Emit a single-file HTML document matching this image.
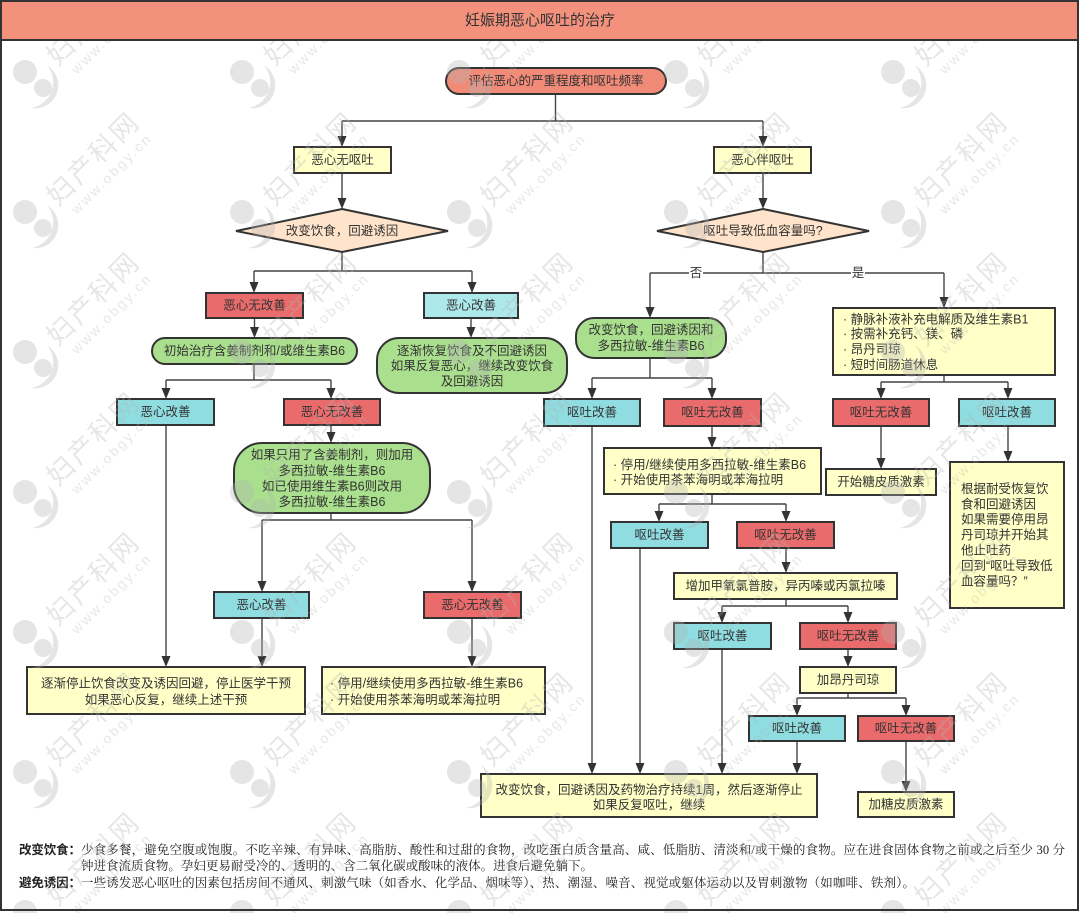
<!DOCTYPE html>
<html>
<head>
<meta charset="utf-8">
<style>
html,body{margin:0;padding:0;background:#fff;}
body{width:1080px;height:913px;overflow:hidden;}
svg{display:block;}
.t{font-family:"Liberation Sans","Noto Sans CJK SC",sans-serif;font-size:12.5px;fill:#333;}
.c{text-anchor:middle;}
.ln{fill:none;stroke:#444;stroke-width:1.4;}
.bx{stroke:#333;stroke-width:2;}
.ah{fill:#333;}
.wm circle,.wm path{fill:#b4b4b4;opacity:.34;}
.wm text{fill:#b4b4b4;opacity:.32;font-family:"Liberation Sans","Noto Sans CJK SC",sans-serif;}
.note{font-family:"Liberation Serif","Noto Serif CJK SC",serif;font-size:12.5px;fill:#222;}
.lab{font-family:"Liberation Sans","Noto Sans CJK SC",sans-serif;font-size:12.5px;fill:#222;font-weight:bold;}
</style>
</head>
<body>
<svg width="1080" height="913" viewBox="0 0 1080 913" xmlns="http://www.w3.org/2000/svg">
<rect x="0" y="0" width="1080" height="913" fill="#fff"/>

<!-- connectors -->
<path class="ln" d="M555.5 94V121M342 121H763M342 121V139M763 121V139"/>
<path class="ln" d="M342 173V201M763 173V201"/>
<path class="ln" d="M342 252V271M254 271H472M254 271V285M472 271V285"/>
<path class="ln" d="M763 252V273M650 273H944M650 273V310M944 273V300"/>
<path class="ln" d="M254.5 318V330M471 318V330"/>
<path class="ln" d="M254 364V380M166 380H331M166 380V391M331 380V391"/>
<path class="ln" d="M166 425V659M331 425V435"/>
<path class="ln" d="M331 513V520M262 520H472M262 520V584M472 520V584"/>
<path class="ln" d="M262 618V659M472 618V659"/>
<path class="ln" d="M650 358V378M592 378H712M592 378V391M712 378V391"/>
<path class="ln" d="M592 426V766M712 426V440"/>
<path class="ln" d="M712 494V504M659 504H786M659 504V514M786 504V514"/>
<path class="ln" d="M640 548V766M786 548V565"/>
<path class="ln" d="M786 599V606M722 606H848M722 606V615M848 606V615"/>
<path class="ln" d="M722 649V766M848 649V659"/>
<path class="ln" d="M848 693V698M797 698H906M797 698V708M906 698V708"/>
<path class="ln" d="M797 741V766M906 741V784"/>
<path class="ln" d="M944 375V382M881 382H1008M881 382V391M1008 382V391"/>
<path class="ln" d="M881 426V461M1008 426V454"/>

<!-- arrowheads -->
<g class="ah">
<polygon points="337.5,136 346.5,136 342,147"/>
<polygon points="758.5,136 767.5,136 763,147"/>
<polygon points="337.5,198 346.5,198 342,209"/>
<polygon points="758.5,198 767.5,198 763,209"/>
<polygon points="249.5,282 258.5,282 254,293"/>
<polygon points="467.5,282 476.5,282 472,293"/>
<polygon points="645.5,307 654.5,307 650,318"/>
<polygon points="939.5,297 948.5,297 944,308"/>
<polygon points="250,327 259,327 254.5,338"/>
<polygon points="466.5,327 475.5,327 471,338"/>
<polygon points="161.5,388 170.5,388 166,399"/>
<polygon points="326.5,388 335.5,388 331,399"/>
<polygon points="161.5,656 170.5,656 166,667"/>
<polygon points="326.5,432 335.5,432 331,443"/>
<polygon points="257.5,581 266.5,581 262,592"/>
<polygon points="467.5,581 476.5,581 472,592"/>
<polygon points="257.5,656 266.5,656 262,667"/>
<polygon points="467.5,656 476.5,656 472,667"/>
<polygon points="587.5,388 596.5,388 592,399"/>
<polygon points="707.5,388 716.5,388 712,399"/>
<polygon points="587.5,763 596.5,763 592,774"/>
<polygon points="707.5,437 716.5,437 712,448"/>
<polygon points="654.5,511 663.5,511 659,522"/>
<polygon points="781.5,511 790.5,511 786,522"/>
<polygon points="635.5,763 644.5,763 640,774"/>
<polygon points="781.5,562 790.5,562 786,573"/>
<polygon points="717.5,612 726.5,612 722,623"/>
<polygon points="843.5,612 852.5,612 848,623"/>
<polygon points="717.5,763 726.5,763 722,774"/>
<polygon points="843.5,656 852.5,656 848,667"/>
<polygon points="792.5,705 801.5,705 797,716"/>
<polygon points="901.5,705 910.5,705 906,716"/>
<polygon points="792.5,763 801.5,763 797,774"/>
<polygon points="901.5,781 910.5,781 906,792"/>
<polygon points="876.5,388 885.5,388 881,399"/>
<polygon points="1003.5,388 1012.5,388 1008,399"/>
<polygon points="876.5,458 885.5,458 881,469"/>
<polygon points="1003.5,451 1012.5,451 1008,462"/>
</g>

<!-- yes/no labels -->
<rect x="689" y="266" width="14" height="14" fill="#fff"/>
<text class="t c" x="696" y="273" dominant-baseline="central">否</text>
<rect x="851" y="266" width="14" height="14" fill="#fff"/>
<text class="t c" x="858" y="273" dominant-baseline="central">是</text>

<!-- nodes -->
<rect class="bx" x="446" y="68" width="220" height="26" rx="13" fill="#F18A77"/>
<text class="t c" x="556" y="81" dominant-baseline="central">评估恶心的严重程度和呕吐频率</text>

<rect class="bx" x="294" y="147" width="97" height="26" fill="#FFFFC7"/>
<text class="t c" x="342.5" y="160" dominant-baseline="central">恶心无呕吐</text>
<rect class="bx" x="714" y="147" width="97" height="26" fill="#FFFFC7"/>
<text class="t c" x="762.5" y="160" dominant-baseline="central">恶心伴呕吐</text>

<polygon class="bx" points="342,209 448,231 342,252 236,231" fill="#FFE4CB"/>
<text class="t c" x="342" y="231" dominant-baseline="central">改变饮食，回避诱因</text>
<polygon class="bx" points="763,209 869,231 763,252 657,231" fill="#FFE4CB"/>
<text class="t c" x="763" y="231" dominant-baseline="central">呕吐导致低血容量吗?</text>

<rect class="bx" x="206" y="293" width="97" height="25" fill="#EA6B6B"/>
<text class="t c" x="254.5" y="305.5" dominant-baseline="central">恶心无改善</text>
<rect class="bx" x="424" y="293" width="94" height="25" fill="#ADE8EA"/>
<text class="t c" x="471" y="305.5" dominant-baseline="central">恶心改善</text>

<rect class="bx" x="152" y="338" width="205" height="26" rx="13" fill="#A9DF8D"/>
<text class="t c" x="254.5" y="351" dominant-baseline="central">初始治疗含姜制剂和/或维生素B6</text>

<rect class="bx" x="377" y="338" width="190" height="55" rx="22" fill="#A9DF8D"/>
<text class="t c" x="472" y="351" dominant-baseline="central">逐渐恢复饮食及不回避诱因</text>
<text class="t c" x="472" y="366" dominant-baseline="central">如果反复恶心，继续改变饮食</text>
<text class="t c" x="472" y="381.5" dominant-baseline="central">及回避诱因</text>

<rect class="bx" x="117" y="399" width="97" height="26" fill="#8FDDE0"/>
<text class="t c" x="165.5" y="412" dominant-baseline="central">恶心改善</text>
<rect class="bx" x="284" y="399" width="96" height="26" fill="#EA6B6B"/>
<text class="t c" x="332" y="412" dominant-baseline="central">恶心无改善</text>

<rect class="bx" x="234" y="443" width="196" height="70" rx="28" fill="#A9DF8D"/>
<text class="t c" x="332" y="455" dominant-baseline="central">如果只用了含姜制剂，则加用</text>
<text class="t c" x="332" y="471" dominant-baseline="central">多西拉敏-维生素B6</text>
<text class="t c" x="332" y="486.5" dominant-baseline="central">如已使用维生素B6则改用</text>
<text class="t c" x="332" y="502" dominant-baseline="central">多西拉敏-维生素B6</text>

<rect class="bx" x="214" y="592" width="95" height="26" fill="#8FDDE0"/>
<text class="t c" x="261.5" y="605" dominant-baseline="central">恶心改善</text>
<rect class="bx" x="424" y="592" width="97" height="26" fill="#EA6B6B"/>
<text class="t c" x="472.5" y="605" dominant-baseline="central">恶心无改善</text>

<rect class="bx" x="27" y="667" width="278" height="47" fill="#FFFFC7"/>
<text class="t c" x="166" y="683.5" dominant-baseline="central">逐渐停止饮食改变及诱因回避，停止医学干预</text>
<text class="t c" x="166" y="700" dominant-baseline="central">如果恶心反复，继续上述干预</text>

<rect class="bx" x="322" y="667" width="223" height="47" fill="#FFFFC7"/>
<text class="t" x="330" y="683.5" dominant-baseline="central">· 停用/继续使用多西拉敏-维生素B6</text>
<text class="t" x="330" y="700" dominant-baseline="central">· 开始使用茶苯海明或苯海拉明</text>

<rect class="bx" x="576" y="318" width="150" height="40" rx="18" fill="#A9DF8D"/>
<text class="t c" x="651" y="330" dominant-baseline="central">改变饮食，回避诱因和</text>
<text class="t c" x="651" y="346" dominant-baseline="central">多西拉敏-维生素B6</text>

<rect class="bx" x="544" y="399" width="96" height="27" fill="#8FDDE0"/>
<text class="t c" x="592" y="412.5" dominant-baseline="central">呕吐改善</text>
<rect class="bx" x="664" y="399" width="97" height="27" fill="#EA6B6B"/>
<text class="t c" x="712.5" y="412.5" dominant-baseline="central">呕吐无改善</text>

<rect class="bx" x="604" y="448" width="217" height="46" fill="#FFFFC7"/>
<text class="t" x="613" y="465" dominant-baseline="central">· 停用/继续使用多西拉敏-维生素B6</text>
<text class="t" x="613" y="480" dominant-baseline="central">· 开始使用茶苯海明或苯海拉明</text>

<rect class="bx" x="611" y="522" width="97" height="26" fill="#8FDDE0"/>
<text class="t c" x="659.5" y="535" dominant-baseline="central">呕吐改善</text>
<rect class="bx" x="737" y="522" width="97" height="26" fill="#EA6B6B"/>
<text class="t c" x="785.5" y="535" dominant-baseline="central">呕吐无改善</text>

<rect class="bx" x="674" y="573" width="223" height="26" fill="#FFFFC7"/>
<text class="t c" x="785.5" y="586" dominant-baseline="central">增加甲氧氯普胺，异丙嗪或丙氯拉嗪</text>

<rect class="bx" x="674" y="623" width="97" height="26" fill="#8FDDE0"/>
<text class="t c" x="722.5" y="636" dominant-baseline="central">呕吐改善</text>
<rect class="bx" x="800" y="623" width="96" height="26" fill="#EA6B6B"/>
<text class="t c" x="848" y="636" dominant-baseline="central">呕吐无改善</text>

<rect class="bx" x="800" y="667" width="96" height="26" fill="#FFFFC7"/>
<text class="t c" x="848" y="680" dominant-baseline="central">加昂丹司琼</text>

<rect class="bx" x="749" y="716" width="96" height="25" fill="#8FDDE0"/>
<text class="t c" x="797" y="728.5" dominant-baseline="central">呕吐改善</text>
<rect class="bx" x="858" y="716" width="96" height="25" fill="#EA6B6B"/>
<text class="t c" x="906" y="728.5" dominant-baseline="central">呕吐无改善</text>

<rect class="bx" x="858" y="792" width="96" height="25" fill="#FFFFC7"/>
<text class="t c" x="906" y="804.5" dominant-baseline="central">加糖皮质激素</text>

<rect class="bx" x="481" y="774" width="336" height="43" fill="#FFFFC7"/>
<text class="t c" x="649" y="790" dominant-baseline="central">改变饮食，回避诱因及药物治疗持续1周，然后逐渐停止</text>
<text class="t c" x="649" y="805" dominant-baseline="central">如果反复呕吐，继续</text>

<rect class="bx" x="833" y="308" width="222" height="67" fill="#FFFFC7"/>
<text class="t" x="843" y="319.5" dominant-baseline="central">· 静脉补液补充电解质及维生素B1</text>
<text class="t" x="843" y="334" dominant-baseline="central">· 按需补充钙、镁、磷</text>
<text class="t" x="843" y="349.5" dominant-baseline="central">· 昂丹司琼</text>
<text class="t" x="843" y="365" dominant-baseline="central">· 短时间肠道休息</text>

<rect class="bx" x="833" y="399" width="96" height="27" fill="#EA6B6B"/>
<text class="t c" x="881" y="412.5" dominant-baseline="central">呕吐无改善</text>
<rect class="bx" x="959" y="399" width="96" height="27" fill="#8FDDE0"/>
<text class="t c" x="1007" y="412.5" dominant-baseline="central">呕吐改善</text>

<rect class="bx" x="826" y="469" width="110" height="26" fill="#FFFFC7"/>
<text class="t c" x="881" y="482" dominant-baseline="central">开始糖皮质激素</text>

<rect class="bx" x="950" y="462" width="114" height="146" fill="#FFFFC7"/>
<text class="t" x="961" y="489" dominant-baseline="central">根据耐受恢复饮</text>
<text class="t" x="961" y="504.5" dominant-baseline="central">食和回避诱因</text>
<text class="t" x="961" y="519.5" dominant-baseline="central">如果需要停用昂</text>
<text class="t" x="961" y="535" dominant-baseline="central">丹司琼并开始其</text>
<text class="t" x="961" y="550.5" dominant-baseline="central">他止吐药</text>
<text class="t" x="961" y="566" dominant-baseline="central">回到“呕吐导致低</text>
<text class="t" x="961" y="581.5" dominant-baseline="central">血容量吗？”</text>

<!-- notes -->
<text class="lab" x="19" y="850" dominant-baseline="central" textLength="62" lengthAdjust="spacing">改变饮食：</text>
<text class="note" x="81" y="850" dominant-baseline="central" textLength="984" lengthAdjust="spacing">少食多餐，避免空腹或饱腹。不吃辛辣、有异味、高脂肪、酸性和过甜的食物，改吃蛋白质含量高、咸、低脂肪、清淡和/或干燥的食物。应在进食固体食物之前或之后至少 30 分</text>
<text class="note" x="81" y="866" dominant-baseline="central" textLength="512" lengthAdjust="spacing">钟进食流质食物。孕妇更易耐受冷的、透明的、含二氧化碳或酸味的液体。进食后避免躺下。</text>
<text class="lab" x="19" y="883" dominant-baseline="central" textLength="62" lengthAdjust="spacing">避免诱因：</text>
<text class="note" x="81" y="883" dominant-baseline="central" textLength="834" lengthAdjust="spacing">一些诱发恶心呕吐的因素包括房间不通风、刺激气味（如香水、化学品、烟味等）、热、潮湿、噪音、视觉或躯体运动以及胃刺激物（如咖啡、铁剂）。</text>

<!-- watermark -->
<g class="wm">
<g transform="translate(25,72)"><circle r="12"/><circle cx="18" cy="16" r="9"/><path d="M22 -6.6A23 23 0 0 1 6.5 35.9A26 26 0 0 0 22 -6.6Z"/><text x="33" y="-5" transform="rotate(-45 33 -5)" font-size="27" textLength="116">妇产科网</text><text x="52" y="3" transform="rotate(-45 52 3)" font-size="14" textLength="105">www.obgy.cn</text></g>
<g transform="translate(242,72)"><circle r="12"/><circle cx="18" cy="16" r="9"/><path d="M22 -6.6A23 23 0 0 1 6.5 35.9A26 26 0 0 0 22 -6.6Z"/><text x="33" y="-5" transform="rotate(-45 33 -5)" font-size="27" textLength="116">妇产科网</text><text x="52" y="3" transform="rotate(-45 52 3)" font-size="14" textLength="105">www.obgy.cn</text></g>
<g transform="translate(459,72)"><circle r="12"/><circle cx="18" cy="16" r="9"/><path d="M22 -6.6A23 23 0 0 1 6.5 35.9A26 26 0 0 0 22 -6.6Z"/><text x="33" y="-5" transform="rotate(-45 33 -5)" font-size="27" textLength="116">妇产科网</text><text x="52" y="3" transform="rotate(-45 52 3)" font-size="14" textLength="105">www.obgy.cn</text></g>
<g transform="translate(676,72)"><circle r="12"/><circle cx="18" cy="16" r="9"/><path d="M22 -6.6A23 23 0 0 1 6.5 35.9A26 26 0 0 0 22 -6.6Z"/><text x="33" y="-5" transform="rotate(-45 33 -5)" font-size="27" textLength="116">妇产科网</text><text x="52" y="3" transform="rotate(-45 52 3)" font-size="14" textLength="105">www.obgy.cn</text></g>
<g transform="translate(893,72)"><circle r="12"/><circle cx="18" cy="16" r="9"/><path d="M22 -6.6A23 23 0 0 1 6.5 35.9A26 26 0 0 0 22 -6.6Z"/><text x="33" y="-5" transform="rotate(-45 33 -5)" font-size="27" textLength="116">妇产科网</text><text x="52" y="3" transform="rotate(-45 52 3)" font-size="14" textLength="105">www.obgy.cn</text></g>

<g transform="translate(25,212)"><circle r="12"/><circle cx="18" cy="16" r="9"/><path d="M22 -6.6A23 23 0 0 1 6.5 35.9A26 26 0 0 0 22 -6.6Z"/><text x="33" y="-5" transform="rotate(-45 33 -5)" font-size="27" textLength="116">妇产科网</text><text x="52" y="3" transform="rotate(-45 52 3)" font-size="14" textLength="105">www.obgy.cn</text></g>
<g transform="translate(242,212)"><circle r="12"/><circle cx="18" cy="16" r="9"/><path d="M22 -6.6A23 23 0 0 1 6.5 35.9A26 26 0 0 0 22 -6.6Z"/><text x="33" y="-5" transform="rotate(-45 33 -5)" font-size="27" textLength="116">妇产科网</text><text x="52" y="3" transform="rotate(-45 52 3)" font-size="14" textLength="105">www.obgy.cn</text></g>
<g transform="translate(459,212)"><circle r="12"/><circle cx="18" cy="16" r="9"/><path d="M22 -6.6A23 23 0 0 1 6.5 35.9A26 26 0 0 0 22 -6.6Z"/><text x="33" y="-5" transform="rotate(-45 33 -5)" font-size="27" textLength="116">妇产科网</text><text x="52" y="3" transform="rotate(-45 52 3)" font-size="14" textLength="105">www.obgy.cn</text></g>
<g transform="translate(676,212)"><circle r="12"/><circle cx="18" cy="16" r="9"/><path d="M22 -6.6A23 23 0 0 1 6.5 35.9A26 26 0 0 0 22 -6.6Z"/><text x="33" y="-5" transform="rotate(-45 33 -5)" font-size="27" textLength="116">妇产科网</text><text x="52" y="3" transform="rotate(-45 52 3)" font-size="14" textLength="105">www.obgy.cn</text></g>
<g transform="translate(893,212)"><circle r="12"/><circle cx="18" cy="16" r="9"/><path d="M22 -6.6A23 23 0 0 1 6.5 35.9A26 26 0 0 0 22 -6.6Z"/><text x="33" y="-5" transform="rotate(-45 33 -5)" font-size="27" textLength="116">妇产科网</text><text x="52" y="3" transform="rotate(-45 52 3)" font-size="14" textLength="105">www.obgy.cn</text></g>

<g transform="translate(25,352)"><circle r="12"/><circle cx="18" cy="16" r="9"/><path d="M22 -6.6A23 23 0 0 1 6.5 35.9A26 26 0 0 0 22 -6.6Z"/><text x="33" y="-5" transform="rotate(-45 33 -5)" font-size="27" textLength="116">妇产科网</text><text x="52" y="3" transform="rotate(-45 52 3)" font-size="14" textLength="105">www.obgy.cn</text></g>
<g transform="translate(242,352)"><circle r="12"/><circle cx="18" cy="16" r="9"/><path d="M22 -6.6A23 23 0 0 1 6.5 35.9A26 26 0 0 0 22 -6.6Z"/><text x="33" y="-5" transform="rotate(-45 33 -5)" font-size="27" textLength="116">妇产科网</text><text x="52" y="3" transform="rotate(-45 52 3)" font-size="14" textLength="105">www.obgy.cn</text></g>
<g transform="translate(459,352)"><circle r="12"/><circle cx="18" cy="16" r="9"/><path d="M22 -6.6A23 23 0 0 1 6.5 35.9A26 26 0 0 0 22 -6.6Z"/><text x="33" y="-5" transform="rotate(-45 33 -5)" font-size="27" textLength="116">妇产科网</text><text x="52" y="3" transform="rotate(-45 52 3)" font-size="14" textLength="105">www.obgy.cn</text></g>
<g transform="translate(676,352)"><circle r="12"/><circle cx="18" cy="16" r="9"/><path d="M22 -6.6A23 23 0 0 1 6.5 35.9A26 26 0 0 0 22 -6.6Z"/><text x="33" y="-5" transform="rotate(-45 33 -5)" font-size="27" textLength="116">妇产科网</text><text x="52" y="3" transform="rotate(-45 52 3)" font-size="14" textLength="105">www.obgy.cn</text></g>
<g transform="translate(893,352)"><circle r="12"/><circle cx="18" cy="16" r="9"/><path d="M22 -6.6A23 23 0 0 1 6.5 35.9A26 26 0 0 0 22 -6.6Z"/><text x="33" y="-5" transform="rotate(-45 33 -5)" font-size="27" textLength="116">妇产科网</text><text x="52" y="3" transform="rotate(-45 52 3)" font-size="14" textLength="105">www.obgy.cn</text></g>

<g transform="translate(25,492)"><circle r="12"/><circle cx="18" cy="16" r="9"/><path d="M22 -6.6A23 23 0 0 1 6.5 35.9A26 26 0 0 0 22 -6.6Z"/><text x="33" y="-5" transform="rotate(-45 33 -5)" font-size="27" textLength="116">妇产科网</text><text x="52" y="3" transform="rotate(-45 52 3)" font-size="14" textLength="105">www.obgy.cn</text></g>
<g transform="translate(242,492)"><circle r="12"/><circle cx="18" cy="16" r="9"/><path d="M22 -6.6A23 23 0 0 1 6.5 35.9A26 26 0 0 0 22 -6.6Z"/><text x="33" y="-5" transform="rotate(-45 33 -5)" font-size="27" textLength="116">妇产科网</text><text x="52" y="3" transform="rotate(-45 52 3)" font-size="14" textLength="105">www.obgy.cn</text></g>
<g transform="translate(459,492)"><circle r="12"/><circle cx="18" cy="16" r="9"/><path d="M22 -6.6A23 23 0 0 1 6.5 35.9A26 26 0 0 0 22 -6.6Z"/><text x="33" y="-5" transform="rotate(-45 33 -5)" font-size="27" textLength="116">妇产科网</text><text x="52" y="3" transform="rotate(-45 52 3)" font-size="14" textLength="105">www.obgy.cn</text></g>
<g transform="translate(676,492)"><circle r="12"/><circle cx="18" cy="16" r="9"/><path d="M22 -6.6A23 23 0 0 1 6.5 35.9A26 26 0 0 0 22 -6.6Z"/><text x="33" y="-5" transform="rotate(-45 33 -5)" font-size="27" textLength="116">妇产科网</text><text x="52" y="3" transform="rotate(-45 52 3)" font-size="14" textLength="105">www.obgy.cn</text></g>
<g transform="translate(893,492)"><circle r="12"/><circle cx="18" cy="16" r="9"/><path d="M22 -6.6A23 23 0 0 1 6.5 35.9A26 26 0 0 0 22 -6.6Z"/><text x="33" y="-5" transform="rotate(-45 33 -5)" font-size="27" textLength="116">妇产科网</text><text x="52" y="3" transform="rotate(-45 52 3)" font-size="14" textLength="105">www.obgy.cn</text></g>

<g transform="translate(25,632)"><circle r="12"/><circle cx="18" cy="16" r="9"/><path d="M22 -6.6A23 23 0 0 1 6.5 35.9A26 26 0 0 0 22 -6.6Z"/><text x="33" y="-5" transform="rotate(-45 33 -5)" font-size="27" textLength="116">妇产科网</text><text x="52" y="3" transform="rotate(-45 52 3)" font-size="14" textLength="105">www.obgy.cn</text></g>
<g transform="translate(242,632)"><circle r="12"/><circle cx="18" cy="16" r="9"/><path d="M22 -6.6A23 23 0 0 1 6.5 35.9A26 26 0 0 0 22 -6.6Z"/><text x="33" y="-5" transform="rotate(-45 33 -5)" font-size="27" textLength="116">妇产科网</text><text x="52" y="3" transform="rotate(-45 52 3)" font-size="14" textLength="105">www.obgy.cn</text></g>
<g transform="translate(459,632)"><circle r="12"/><circle cx="18" cy="16" r="9"/><path d="M22 -6.6A23 23 0 0 1 6.5 35.9A26 26 0 0 0 22 -6.6Z"/><text x="33" y="-5" transform="rotate(-45 33 -5)" font-size="27" textLength="116">妇产科网</text><text x="52" y="3" transform="rotate(-45 52 3)" font-size="14" textLength="105">www.obgy.cn</text></g>
<g transform="translate(676,632)"><circle r="12"/><circle cx="18" cy="16" r="9"/><path d="M22 -6.6A23 23 0 0 1 6.5 35.9A26 26 0 0 0 22 -6.6Z"/><text x="33" y="-5" transform="rotate(-45 33 -5)" font-size="27" textLength="116">妇产科网</text><text x="52" y="3" transform="rotate(-45 52 3)" font-size="14" textLength="105">www.obgy.cn</text></g>
<g transform="translate(893,632)"><circle r="12"/><circle cx="18" cy="16" r="9"/><path d="M22 -6.6A23 23 0 0 1 6.5 35.9A26 26 0 0 0 22 -6.6Z"/><text x="33" y="-5" transform="rotate(-45 33 -5)" font-size="27" textLength="116">妇产科网</text><text x="52" y="3" transform="rotate(-45 52 3)" font-size="14" textLength="105">www.obgy.cn</text></g>

<g transform="translate(25,772)"><circle r="12"/><circle cx="18" cy="16" r="9"/><path d="M22 -6.6A23 23 0 0 1 6.5 35.9A26 26 0 0 0 22 -6.6Z"/><text x="33" y="-5" transform="rotate(-45 33 -5)" font-size="27" textLength="116">妇产科网</text><text x="52" y="3" transform="rotate(-45 52 3)" font-size="14" textLength="105">www.obgy.cn</text></g>
<g transform="translate(242,772)"><circle r="12"/><circle cx="18" cy="16" r="9"/><path d="M22 -6.6A23 23 0 0 1 6.5 35.9A26 26 0 0 0 22 -6.6Z"/><text x="33" y="-5" transform="rotate(-45 33 -5)" font-size="27" textLength="116">妇产科网</text><text x="52" y="3" transform="rotate(-45 52 3)" font-size="14" textLength="105">www.obgy.cn</text></g>
<g transform="translate(459,772)"><circle r="12"/><circle cx="18" cy="16" r="9"/><path d="M22 -6.6A23 23 0 0 1 6.5 35.9A26 26 0 0 0 22 -6.6Z"/><text x="33" y="-5" transform="rotate(-45 33 -5)" font-size="27" textLength="116">妇产科网</text><text x="52" y="3" transform="rotate(-45 52 3)" font-size="14" textLength="105">www.obgy.cn</text></g>
<g transform="translate(676,772)"><circle r="12"/><circle cx="18" cy="16" r="9"/><path d="M22 -6.6A23 23 0 0 1 6.5 35.9A26 26 0 0 0 22 -6.6Z"/><text x="33" y="-5" transform="rotate(-45 33 -5)" font-size="27" textLength="116">妇产科网</text><text x="52" y="3" transform="rotate(-45 52 3)" font-size="14" textLength="105">www.obgy.cn</text></g>
<g transform="translate(893,772)"><circle r="12"/><circle cx="18" cy="16" r="9"/><path d="M22 -6.6A23 23 0 0 1 6.5 35.9A26 26 0 0 0 22 -6.6Z"/><text x="33" y="-5" transform="rotate(-45 33 -5)" font-size="27" textLength="116">妇产科网</text><text x="52" y="3" transform="rotate(-45 52 3)" font-size="14" textLength="105">www.obgy.cn</text></g>

<g transform="translate(25,912)"><circle r="12"/><circle cx="18" cy="16" r="9"/><text x="33" y="-5" transform="rotate(-45 33 -5)" font-size="27" textLength="116">妇产科网</text><text x="52" y="3" transform="rotate(-45 52 3)" font-size="14" textLength="105">www.obgy.cn</text></g>
<g transform="translate(242,912)"><circle r="12"/><circle cx="18" cy="16" r="9"/><text x="33" y="-5" transform="rotate(-45 33 -5)" font-size="27" textLength="116">妇产科网</text><text x="52" y="3" transform="rotate(-45 52 3)" font-size="14" textLength="105">www.obgy.cn</text></g>
<g transform="translate(459,912)"><circle r="12"/><circle cx="18" cy="16" r="9"/><text x="33" y="-5" transform="rotate(-45 33 -5)" font-size="27" textLength="116">妇产科网</text><text x="52" y="3" transform="rotate(-45 52 3)" font-size="14" textLength="105">www.obgy.cn</text></g>
<g transform="translate(676,912)"><circle r="12"/><circle cx="18" cy="16" r="9"/><text x="33" y="-5" transform="rotate(-45 33 -5)" font-size="27" textLength="116">妇产科网</text><text x="52" y="3" transform="rotate(-45 52 3)" font-size="14" textLength="105">www.obgy.cn</text></g>
<g transform="translate(893,912)"><circle r="12"/><circle cx="18" cy="16" r="9"/><text x="33" y="-5" transform="rotate(-45 33 -5)" font-size="27" textLength="116">妇产科网</text><text x="52" y="3" transform="rotate(-45 52 3)" font-size="14" textLength="105">www.obgy.cn</text></g>
</g>

<!-- title bar and frame -->
<rect x="1" y="1" width="1077" height="39" fill="#F4917D"/>
<line x1="1" y1="40" x2="1078" y2="40" stroke="#333" stroke-width="2"/>
<text class="t c" x="540" y="20.5" dominant-baseline="central" style="font-size:15px">妊娠期恶心呕吐的治疗</text>
<rect x="1" y="1" width="1077" height="909" fill="none" stroke="#333" stroke-width="2"/>
</svg>
</body>
</html>
